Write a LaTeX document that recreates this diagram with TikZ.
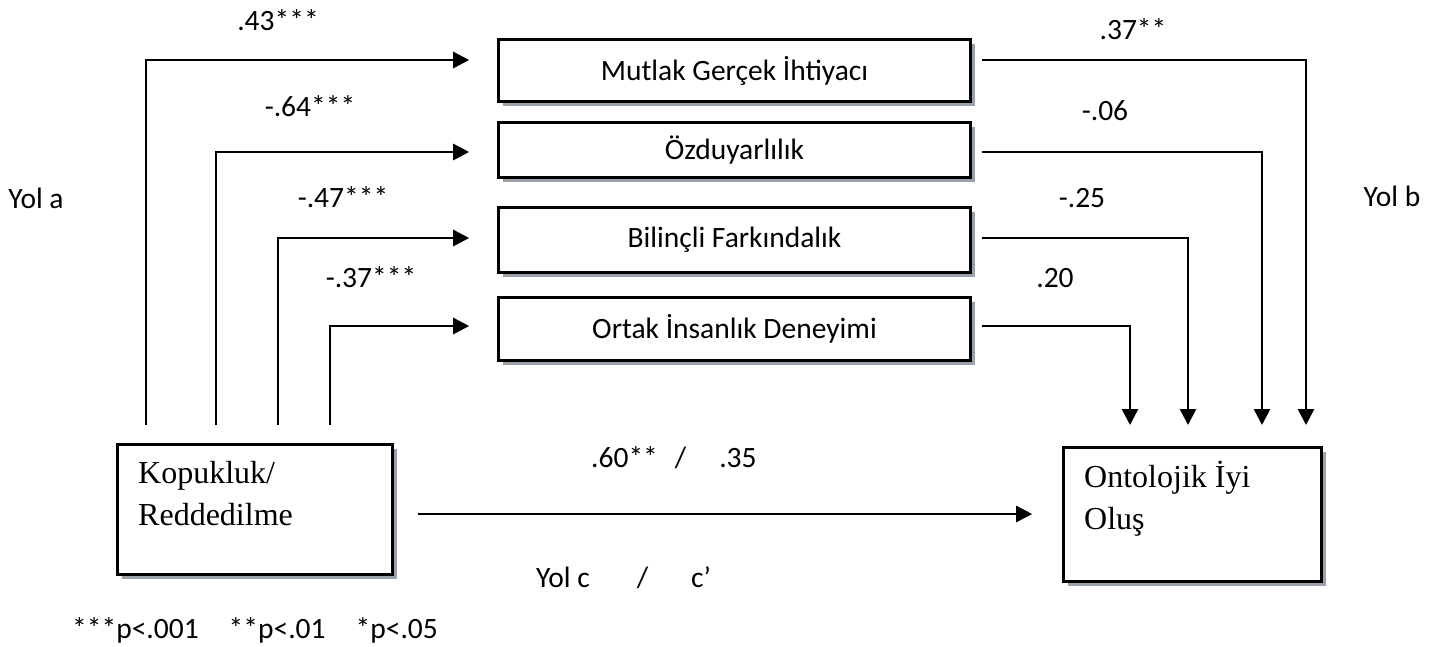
\documentclass[tikz,border=0pt]{standalone}
\usepackage{fontspec}
\setmainfont{Carlito}
\newfontfamily\tnr{Liberation Serif}
\usetikzlibrary{arrows.meta,shadows}
\definecolor{shadowgray}{HTML}{9AA1AB}
\begin{document}
\begin{tikzpicture}[x=1pt,y=-1pt,
  box/.style={draw,line width=2.6pt,fill=white,inner sep=0pt,
    font=\fontsize{29.5}{35}\selectfont,
    drop shadow={shadow xshift=4pt,shadow yshift=-4pt,opacity=1,fill=shadowgray}},
  conn/.style={line width=2.6pt},
  arr/.style={conn,-{Triangle[length=16pt,width=16pt]}},
  lbl/.style={inner sep=0pt,font=\fontsize{29.5}{35}\selectfont},
  serif/.style={inner sep=0pt,align=left,font=\tnr\fontsize{32}{42}\selectfont}]
\useasboundingbox (0,0) rectangle (1451,646);

% mediator boxes
\node[box,minimum width=472pt,minimum height=62pt] (m1) at (734.5,70.5) {Mutlak Gerçek İhtiyacı};
\node[box,minimum width=472pt,minimum height=55pt] (m2) at (734.5,150) {Özduyarlılık};
\node[box,minimum width=472pt,minimum height=65pt] (m3) at (734.5,240) {Bilinçli Farkındalık};
\node[box,minimum width=472pt,minimum height=63pt] (m4) at (734.5,329) {Ortak İnsanlık Deneyimi};

% predictor and outcome
\node[box,minimum width=275pt,minimum height=130pt] (k) at (255,509.5) {};
\node[serif,anchor=north west] (kt) at (138,453.6) {\strut Kopukluk/\\Reddedilme};
\node[box,minimum width=258pt,minimum height=134pt] (o) at (1192.5,514.5) {};
\node[serif,anchor=north west] (ot) at (1084,457.6) {\strut Ontolojik İyi\\Oluş};

% path a
\coordinate (a1) at (146,425);
\coordinate (a2) at (216,425);
\coordinate (a3) at (278,425);
\coordinate (a4) at (330,425);
\draw[arr] (a1) |- ([xshift=-28pt,yshift=10.5pt]m1.west);
\draw[arr] (a2) |- ([xshift=-28pt,yshift=-2pt]m2.west);
\draw[arr] (a3) |- ([xshift=-28pt,yshift=2pt]m3.west);
\draw[arr] (a4) |- ([xshift=-28pt,yshift=3pt]m4.west);

% path b
\coordinate (b1) at (1306,425);
\coordinate (b2) at (1262,425);
\coordinate (b3) at (1188,425);
\coordinate (b4) at (1130,425);
\draw[arr] ([xshift=10pt,yshift=10.5pt]m1.east) -| (b1);
\draw[arr] ([xshift=10pt,yshift=-2pt]m2.east) -| (b2);
\draw[arr] ([xshift=10pt,yshift=2pt]m3.east) -| (b3);
\draw[arr] ([xshift=10pt,yshift=3pt]m4.east) -| (b4);

% path c
\coordinate (c0) at ([xshift=24pt,yshift=-4.5pt]k.east);
\draw[arr,shorten >=30pt] (c0) -- (c0 -| o.west);

% labels
\node[lbl] (l1) at (278,20) {.43***};
\node[lbl] (l2) at (310,106) {-.64***};
\node[lbl] (l3) at (343,197) {-.47***};
\node[lbl] (l4) at (371,277) {-.37***};
\node[lbl] (ya) at (36,198) {Yol a};
\node[lbl] (r1) at (1133,29) {.37**};
\node[lbl] (r2) at (1105,111) {-.06};
\node[lbl] (r3) at (1082,198) {-.25};
\node[lbl] (r4) at (1055,278) {.20};
\node[lbl] (yb) at (1392,196) {Yol b};
\node[lbl,anchor=west] (cc) at (591,458) {.60**\hspace{17pt}/\hspace{33pt}.35};
\node[lbl,anchor=west] (yc) at (536,578) {Yol c\hspace{47pt}/\hspace{43pt}c’};
\node[lbl,anchor=west] (fn) at (72,630) {***p<.001\hspace{30pt}**p<.01\hspace{30pt}*p<.05};
\end{tikzpicture}
\end{document}
